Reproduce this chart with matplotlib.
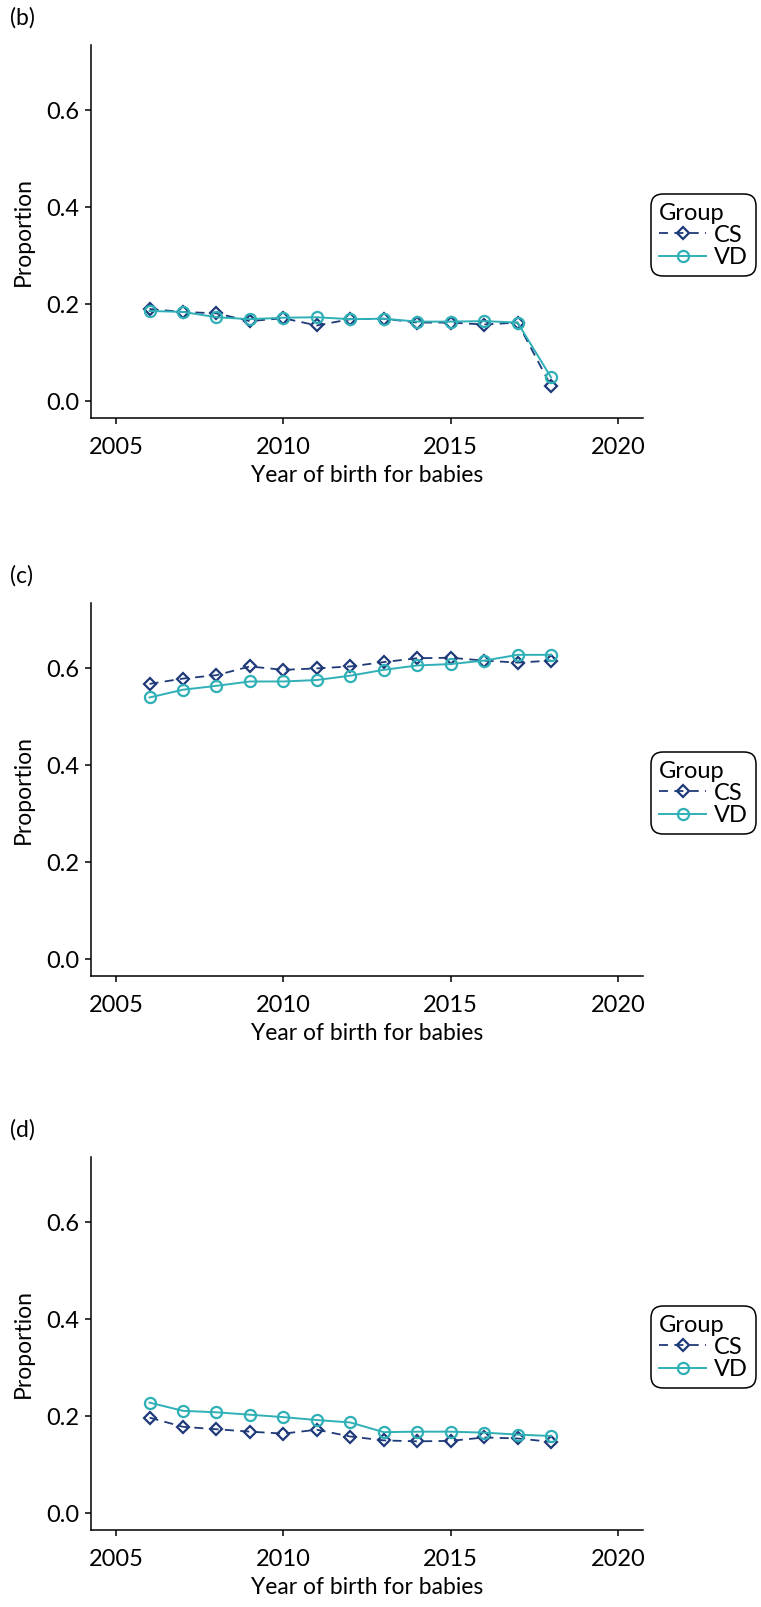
import matplotlib
matplotlib.use('Agg')
import matplotlib.pyplot as plt

plt.rcParams['font.family'] = ['Lato', 'DejaVu Sans']

# data
years = list(range(2006, 2019))

cs_b = [0.190, 0.184, 0.181, 0.165, 0.171, 0.156, 0.169, 0.170, 0.162, 0.162, 0.158, 0.162, 0.031]
vd_b = [0.186, 0.184, 0.173, 0.169, 0.172, 0.173, 0.169, 0.170, 0.164, 0.164, 0.165, 0.162, 0.049]

cs_c = [0.568, 0.579, 0.586, 0.604, 0.597, 0.600, 0.604, 0.613, 0.621, 0.622, 0.616, 0.612, 0.616]
vd_c = [0.540, 0.556, 0.564, 0.573, 0.573, 0.576, 0.585, 0.597, 0.606, 0.609, 0.616, 0.628, 0.628]

cs_d = [0.197, 0.178, 0.173, 0.168, 0.164, 0.172, 0.158, 0.150, 0.148, 0.149, 0.156, 0.154, 0.147]
vd_d = [0.228, 0.211, 0.208, 0.203, 0.198, 0.192, 0.187, 0.167, 0.168, 0.168, 0.166, 0.162, 0.159]

panels = [('(b)', cs_b, vd_b), ('(c)', cs_c, vd_c), ('(d)', cs_d, vd_d)]
yticks = [0.0, 0.2, 0.4, 0.6]
xticks = [2005, 2010, 2015, 2020]

NAVY = '#1f3a78'
TEAL = '#2fb0b6'
W, H = 761, 1607
FS_TICK = 17
FS_LAB = 16.5
FS_LEG = 17

fig = plt.figure(figsize=(W / 100, H / 100), dpi=100)

# pixel boxes of the three panels
left, right = 91, 643
bottoms = [418, 976, 1530]
ax_h = 373

for (tag, cs, vd), bot in zip(panels, bottoms):
    top = bot - ax_h
    ax = fig.add_axes([left / W, 1 - bot / H, (right - left) / W, ax_h / H])
    ax.plot(years, cs, color=NAVY, lw=1.3, ls=(0, (5, 3.5)), marker='D', ms=6.5,
            mfc='none', mec=NAVY, mew=1.6, label='CS')
    ax.plot(years, vd, color=TEAL, lw=1.4, ls='-', marker='o', ms=8,
            mfc='none', mec=TEAL, mew=1.6, label='VD')

    ax.set_xlim(2004.25, 2020.75)
    ax.set_ylim(-0.035, 0.735)
    ax.set_xticks(xticks)
    ax.set_yticks(yticks)
    ax.set_yticklabels([f'{v:.1f}' for v in yticks])
    for s in ['top', 'right']:
        ax.spines[s].set_visible(False)
    for s in ['left', 'bottom']:
        ax.spines[s].set_linewidth(1.1)
    ax.tick_params(width=1.1, length=4.5, labelsize=FS_TICK, colors='black')
    ax.tick_params(axis='x', pad=9)
    ax.tick_params(axis='y', pad=4)
    ax.set_xlabel('Year of birth for babies', fontsize=FS_LAB, labelpad=5)
    ax.set_ylabel('Proportion', fontsize=FS_LAB, labelpad=9)

    leg = ax.legend(title='Group', loc='center left',
                    bbox_to_anchor=((651 - left) / (right - left), 0.49),
                    fontsize=FS_LEG, title_fontsize=FS_LEG, frameon=True, fancybox=True,
                    borderaxespad=0, handlelength=2.0, handletextpad=0.3,
                    labelspacing=0.05, borderpad=0.35)
    leg._legend_box.align = 'left'
    frame = leg.get_frame()
    frame.set_edgecolor('black')
    frame.set_linewidth(1.1)
    frame.set_alpha(1)
    frame.set_boxstyle('round,pad=0,rounding_size=0.5')

    fig.text(10 / W, 1 - (top - 27) / H, tag, fontsize=FS_LAB, va='center', ha='left')

fig.savefig('out.png', dpi=100)
